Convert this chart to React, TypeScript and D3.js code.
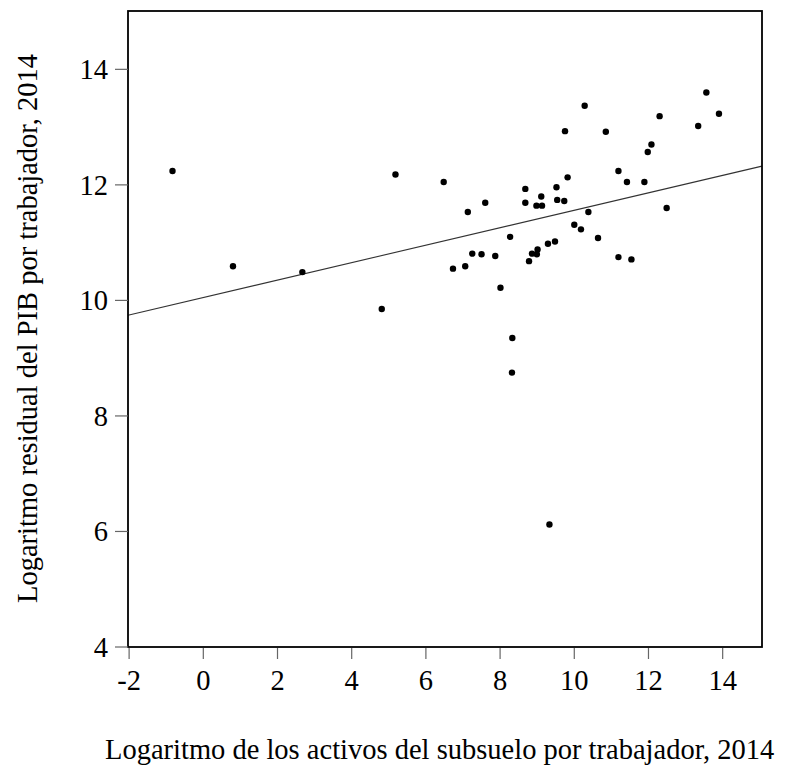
import React from "react";
import * as d3 from "d3";

const xValues = [
  -0.83, 0.8, 2.67, 4.81, 5.18, 6.48, 6.73, 7.06, 7.13, 7.25, 7.5, 7.6, 7.87, 8.01, 8.27, 8.33, 8.32,
  8.68, 8.68, 8.78, 8.86, 8.99, 9.01, 8.98, 9.13, 9.11, 9.29, 9.33, 9.48, 9.52, 9.54, 9.73, 9.75,
  9.82, 10.0, 10.18, 10.28, 10.38, 10.64, 10.85, 11.19, 11.19, 11.42, 11.54, 11.89, 11.98, 12.08,
  12.3, 12.49, 13.34, 13.56, 13.9,
];
const yValues = [
  12.24, 10.59, 10.49, 9.85, 12.18, 12.05, 10.55, 10.59, 11.53, 10.81, 10.8, 11.69, 10.77, 10.22,
  11.1, 9.35, 8.75, 11.93, 11.69, 10.68, 10.81, 10.8, 10.88, 11.64, 11.64, 11.8, 10.98, 6.12, 11.02,
  11.96, 11.74, 11.72, 12.93, 12.13, 11.31, 11.23, 13.37, 11.53, 11.08, 12.92, 12.24, 10.75, 12.05,
  10.71, 12.05, 12.57, 12.7, 13.19, 11.6, 13.02, 13.6, 13.23,
];
const xTicks = [-2, 0, 2, 4, 6, 8, 10, 12, 14];
const yTicks = [4, 6, 8, 10, 12, 14];
const fitIntercept = 10.05;
const fitSlope = 0.151;
const xTitle = "Logaritmo de los activos del subsuelo por trabajador, 2014";
const yTitle = "Logaritmo residual del PIB por trabajador, 2014";

export default function App() {
  const W = 790;
  const H = 768;
  const left = 128;
  const right = 762;
  const top = 11;
  const bottom = 647;
  const x = d3.scaleLinear().domain([-2.03, 15.06]).range([left, right]);
  const y = d3.scaleLinear().domain([4, 15.01]).range([bottom, top]);
  const font = "'Liberation Serif', 'Times New Roman', serif";
  const [x0, x1] = x.domain();
  const line = d3.line<number>()
    .x((d) => x(d))
    .y((d) => y(fitIntercept + fitSlope * d));

  return (
    <svg
      width={W}
      height={H}
      style={{ position: "absolute", left: 0, top: 0, background: "#fff" }}
      fontFamily={font}
    >
      <rect x={0} y={0} width={W} height={H} fill="#fff" />
      <path d={line([x0, x1]) || ""} fill="none" stroke="#333" strokeWidth={1.1} />
      {xValues.map((xv, i) => (
        <circle key={i} cx={x(xv)} cy={y(yValues[i])} r={3.2} fill="#000" />
      ))}
      <rect
        x={left}
        y={top}
        width={right - left}
        height={bottom - top}
        fill="none"
        stroke="#000"
        strokeWidth={1.8}
      />
      {xTicks.map((t) => (
        <g key={"x" + t}>
          <line x1={x(t)} x2={x(t)} y1={bottom + 1} y2={bottom + 12} stroke="#666" strokeWidth={1.2} />
          <text x={x(t)} y={689.5} textAnchor="middle" fontSize={28.5} fill="#000">
            {t}
          </text>
        </g>
      ))}
      {yTicks.map((t) => (
        <g key={"y" + t}>
          <line x1={left - 13} x2={left} y1={y(t)} y2={y(t)} stroke="#666" strokeWidth={1.2} />
          <text x={108} y={y(t)} dy="0.34em" textAnchor="end" fontSize={28.5} fill="#000">
            {t}
          </text>
        </g>
      ))}
      <text x={105} y={759} textAnchor="start" fontSize={28.5} fill="#000">
        {xTitle}
      </text>
      <text
        transform={`translate(36.5, 328.5) rotate(-90)`}
        textAnchor="middle"
        fontSize={28.5}
        fill="#000"
      >
        {yTitle}
      </text>
    </svg>
  );
}
